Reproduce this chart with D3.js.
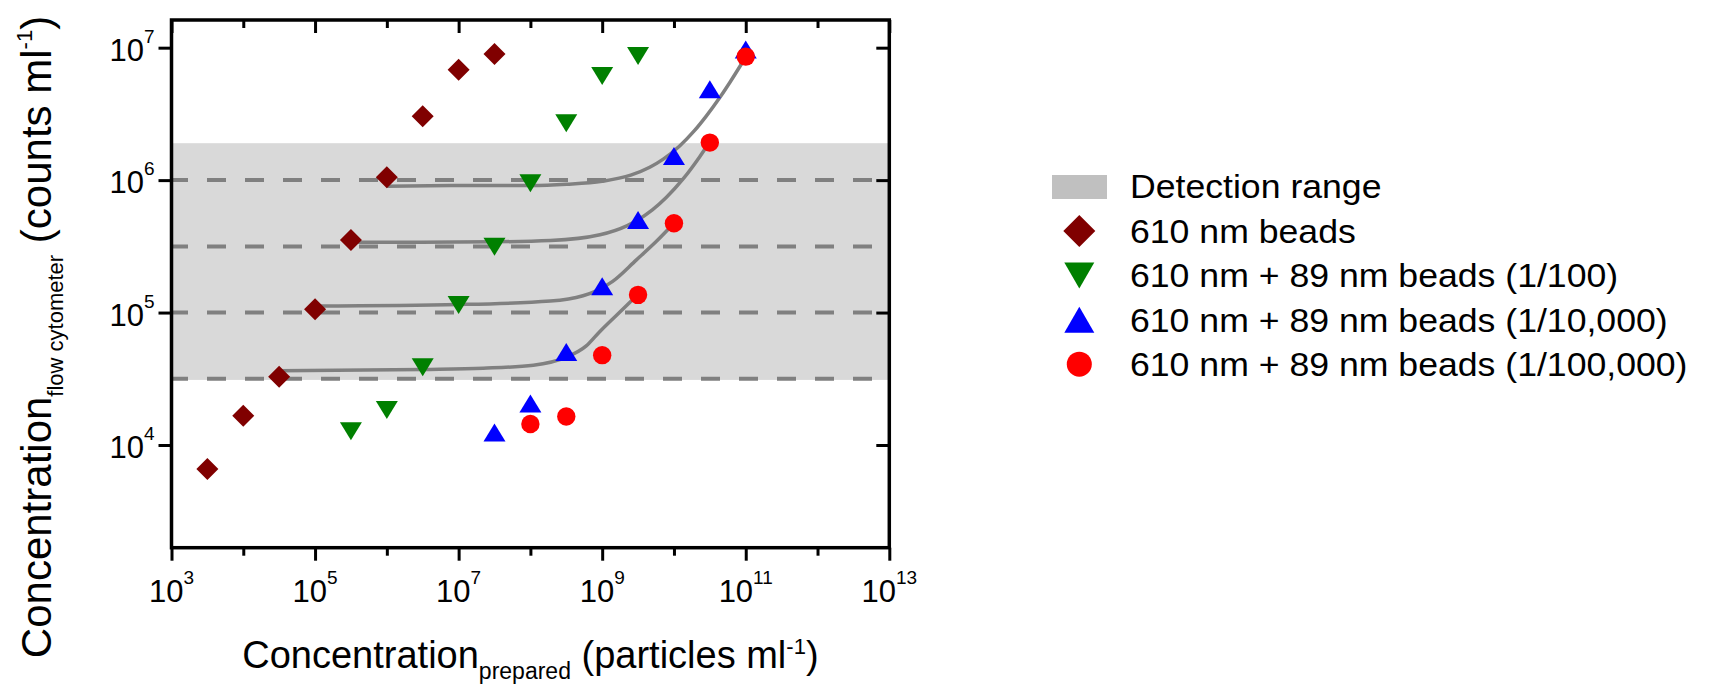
<!DOCTYPE html>
<html lang="en">
<head>
    <meta charset="UTF-8">
    <script src="https://cdn.jsdelivr.net/npm/d3@7"></script>
    <title>Concentration flow cytometer vs prepared</title>
    <style>
        body {
            margin: 0;
            background: #fff;
        }
        text {
            font-family: "Liberation Sans", Arial, sans-serif;
            fill: #000;
        }
    </style>
</head>

<body>
<div id="my_dataviz"></div>
<script>

    // axis ticks
    var xTicks = [1e3, 1e4, 1e5, 1e6, 1e7, 1e8, 1e9, 1e10, 1e11, 1e12, 1e13];
    var xLabelExps = [3, 5, 7, 9, 11, 13];
    var yLabelExps = [4, 5, 6, 7];

    // detection range band and the dashed plateau levels
    var detectionRange = [3.1e4, 1.9e6];
    var plateauLevels = [3.16e4, 1e5, 3.16e5, 1e6];

    // 610 nm beads
    var beadsX = [3.16e3, 1e4, 3.16e4, 1e5, 3.16e5, 1e6, 3.16e6, 1e7, 3.16e7];
    var beadsY = [6.6e3, 1.66e4, 3.27e4, 1.06e5, 3.53e5, 1.05e6, 3.03e6, 6.8e6, 8.96e6];

    // 610 nm + 89 nm beads (1/100)
    var mix100X = [3.16e5, 1e6, 3.16e6, 1e7, 3.16e7, 1e8, 3.16e8, 1e9, 3.16e9];
    var mix100Y = [1.27e4, 1.84e4, 3.86e4, 1.14e5, 3.14e5, 9.46e5, 2.69e6, 6.1e6, 8.65e6];

    // 610 nm + 89 nm beads (1/10,000)
    var mix10kX = [3.16e7, 1e8, 3.16e8, 1e9, 3.16e9, 1e10, 3.16e10, 1e11];
    var mix10kY = [1.24e4, 2.06e4, 5.03e4, 1.58e5, 5.0e5, 1.52e6, 4.85e6, 9.7e6];

    // 610 nm + 89 nm beads (1/100,000)
    var mix100kX = [1e8, 3.16e8, 1e9, 3.16e9, 1e10, 3.16e10, 1e11];
    var mix100kY = [1.44e4, 1.64e4, 4.77e4, 1.36e5, 4.72e5, 1.92e6, 8.56e6];

    // fitted curves
    var fit1X = [1e6, 1e7, 1e8, 3.2e8, 1e9, 2.5e9, 4.6e9, 7.1e9, 1.2e10, 1.9e10, 2.8e10, 4.4e10, 6.0e10, 1e11];
    var fit1Y = [9.0e5, 9.1e5, 9.1e5, 9.3e5, 9.8e5, 1.09e6, 1.25e6, 1.44e6, 1.81e6, 2.34e6, 3.03e6, 4.24e6, 5.46e6, 8.5e6];
    var fit2X = [3.16e5, 3e6, 3e7, 1.9e8, 9.3e8, 2.2e9, 3.1e9, 5e9, 7.8e9, 1.34e10, 2.3e10, 3.1e10];
    var fit2Y = [3.4e5, 3.4e5, 3.42e5, 3.5e5, 3.87e5, 4.52e5, 4.98e5, 5.95e5, 7.38e5, 1.02e6, 1.51e6, 1.92e6];
    var fit3X = [1e5, 1e7, 1.9e8, 5.4e8, 8.3e8, 1.4e9, 3e9, 5.7e9, 1e10];
    var fit3Y = [1.12e5, 1.15e5, 1.22e5, 1.34e5, 1.46e5, 1.72e5, 2.5e5, 3.45e5, 4.72e5];
    var fit4X = [3.16e4, 3.2e6, 2.2e7, 1.1e8, 3.16e8, 6e8, 9.3e8, 1.6e9, 3.1e9];
    var fit4Y = [3.63e4, 3.72e4, 3.8e4, 4.0e4, 4.6e4, 5.6e4, 7.2e4, 9.6e4, 1.36e5];

    var legendLabels = ["Detection range", "610 nm beads", "610 nm + 89 nm beads (1/100)",
        "610 nm + 89 nm beads (1/10,000)", "610 nm + 89 nm beads (1/100,000)"];

    // set the dimensions and margins of the graph
    var margin = {top: 20, left: 171.5},
        width = 717.8,
        height = 527.7;

    var svg0 = d3.select("#my_dataviz")
        .append("svg")
        .attr("width", 1717)
        .attr("height", 689);

    var svg = svg0.append("g")
        .attr("transform", "translate(" + margin.left + "," + margin.top + ")");

    var x = d3.scaleLog()
        .domain([1e3, 1e13])
        .range([0, width]);

    var y = d3.scaleLog()
        .domain([Math.pow(10, 3.2245), Math.pow(10, 7.209)])
        .range([height, 0]);

    // detection range band
    svg.append("rect")
        .attr("x", 0)
        .attr("width", width)
        .attr("y", y(detectionRange[1]))
        .attr("height", y(detectionRange[0]) - y(detectionRange[1]))
        .attr("fill", "#d9d9d9");

    // dashed levels
    svg.selectAll(".level")
        .data(plateauLevels)
        .enter().append("line")
        .attr("x1", 0)
        .attr("x2", width - 6)
        .attr("y1", function(d) { return y(d); })
        .attr("y2", function(d) { return y(d); })
        .attr("stroke", "#808080")
        .attr("stroke-width", 4)
        .attr("stroke-dasharray", "19,19")
        .attr("stroke-dashoffset", 2.5);

    // fitted curves
    var line = d3.line()
        .x(function(d) { return x(d[0]); })
        .y(function(d) { return y(d[1]); })
        .curve(d3.curveMonotoneX);

    [[fit1X, fit1Y], [fit2X, fit2Y], [fit3X, fit3Y], [fit4X, fit4Y]].forEach(function(f) {
        svg.append("path")
            .datum(d3.zip(f[0], f[1]))
            .attr("fill", "none")
            .attr("stroke", "#808080")
            .attr("stroke-width", 3.5)
            .attr("d", line);
    });

    // marker shapes
    function diamond(s) {
        return "M0," + (-s) + "L" + s + ",0L0," + s + "L" + (-s) + ",0Z";
    }
    function triDown(w, h) {
        return "M" + (-w / 2) + "," + (-h / 2) + "L" + (w / 2) + "," + (-h / 2) + "L0," + (h / 2) + "Z";
    }
    function triUp(w, h) {
        return "M" + (-w / 2) + "," + (h / 2) + "L" + (w / 2) + "," + (h / 2) + "L0," + (-h / 2) + "Z";
    }

    function addPoints(xs, ys, shape, color) {
        svg.selectAll(null)
            .data(d3.zip(xs, ys))
            .enter().append("path")
            .attr("transform", function(d) { return "translate(" + x(d[0]) + "," + y(d[1]) + ")"; })
            .attr("d", shape)
            .attr("fill", color);
    }

    addPoints(beadsX, beadsY, diamond(11), "#800000");
    addPoints(mix100X, mix100Y, triDown(22, 18), "#008000");
    addPoints(mix10kX, mix10kY, triUp(22, 18), "#0000ff");

    svg.selectAll(null)
        .data(d3.zip(mix100kX, mix100kY))
        .enter().append("circle")
        .attr("cx", function(d) { return x(d[0]); })
        .attr("cy", function(d) { return y(d[1]); })
        .attr("r", 9.2)
        .attr("fill", "#ff0000");

    // axes: bottom/left point out, top/right point in
    function styleAxis(g) {
        g.select(".domain").remove();
        g.selectAll(".tick line").attr("stroke", "#000").attr("stroke-width", 3);
        g.selectAll(".tick text").remove();
    }
    var majorX = xTicks.filter(function(d, i) { return i % 2 === 0; });
    var minorX = xTicks.filter(function(d, i) { return i % 2 === 1; });
    var yTicks = yLabelExps.map(function(e) { return Math.pow(10, e); });

    svg.append("g").attr("transform", "translate(0," + height + ")")
        .call(d3.axisBottom(x).tickValues(majorX).tickSize(13)).call(styleAxis);
    svg.append("g").attr("transform", "translate(0," + height + ")")
        .call(d3.axisBottom(x).tickValues(minorX).tickSize(8)).call(styleAxis);
    svg.append("g")
        .call(d3.axisTop(x).tickValues(majorX).tickSize(-13)).call(styleAxis);
    svg.append("g")
        .call(d3.axisTop(x).tickValues(minorX).tickSize(-8)).call(styleAxis);
    svg.append("g")
        .call(d3.axisLeft(y).tickValues(yTicks).tickSize(13)).call(styleAxis);
    svg.append("g").attr("transform", "translate(" + width + ",0)")
        .call(d3.axisRight(y).tickValues(yTicks).tickSize(-13)).call(styleAxis);

    // frame
    svg.append("rect")
        .attr("width", width)
        .attr("height", height)
        .attr("fill", "none")
        .attr("stroke", "#000")
        .attr("stroke-width", 3.5);

    // tick labels with superscripts
    function powerLabel(sel, exp) {
        sel.append("tspan").text("10");
        sel.append("tspan").attr("font-size", 19).attr("dy", -18).text(exp);
    }

    xLabelExps.forEach(function(e) {
        var t = svg.append("text")
            .attr("x", x(Math.pow(10, e)))
            .attr("y", height + 54)
            .attr("text-anchor", "middle")
            .attr("font-size", 31);
        powerLabel(t, e);
    });

    yLabelExps.forEach(function(e) {
        var t = svg.append("text")
            .attr("x", -17)
            .attr("y", y(Math.pow(10, e)) + 13)
            .attr("text-anchor", "end")
            .attr("font-size", 31);
        powerLabel(t, e);
    });

    // x axis title
    var xt = svg0.append("text")
        .attr("x", margin.left + width / 2)
        .attr("y", 668)
        .attr("text-anchor", "middle")
        .attr("font-size", 38);
    xt.append("tspan").text("Concentration");
    xt.append("tspan").attr("font-size", 23).attr("dy", 11).text("prepared");
    xt.append("tspan").attr("dy", -11).text(" (particles ml");
    xt.append("tspan").attr("font-size", 22).attr("dy", -14).text("-1");
    xt.append("tspan").attr("dy", 14).text(")");

    // y axis title
    var yt = svg0.append("text")
        .attr("transform", "translate(51,337) rotate(-90)")
        .attr("text-anchor", "middle")
        .attr("font-size", 42);
    yt.append("tspan").text("Concentration");
    yt.append("tspan").attr("font-size", 22).attr("dy", 11.5).text("flow cytometer");
    yt.append("tspan").attr("dy", -11.5).text(" (counts ml");
    yt.append("tspan").attr("font-size", 22).attr("dy", -19).text("-1");
    yt.append("tspan").attr("dy", 19).text(")");

    // legend
    var legendBase = [198.3, 242.7, 287.1, 331.5, 375.9];
    var legend = svg0.append("g");

    legend.append("rect")
        .attr("x", 1052).attr("y", legendBase[0] - 23.3)
        .attr("width", 55).attr("height", 24)
        .attr("fill", "#c0c0c0");

    var legendShapes = [diamond(16), triDown(30, 26), triUp(30, 26), null];
    var legendColors = ["#800000", "#008000", "#0000ff", "#ff0000"];
    legendShapes.forEach(function(s, i) {
        var cy = legendBase[i + 1] - 11.7;
        if (s) {
            legend.append("path")
                .attr("transform", "translate(1079.3," + cy + ")")
                .attr("d", s)
                .attr("fill", legendColors[i]);
        } else {
            legend.append("circle")
                .attr("cx", 1079.3).attr("cy", cy).attr("r", 12.5)
                .attr("fill", legendColors[i]);
        }
    });

    legend.selectAll(".lab")
        .data(legendLabels)
        .enter().append("text")
        .attr("transform", function(d, i) { return "translate(1130," + legendBase[i] + ") scale(1.08,1)"; })
        .attr("font-size", 33)
        .text(function(d) { return d; });

</script>
</body>
</html>
